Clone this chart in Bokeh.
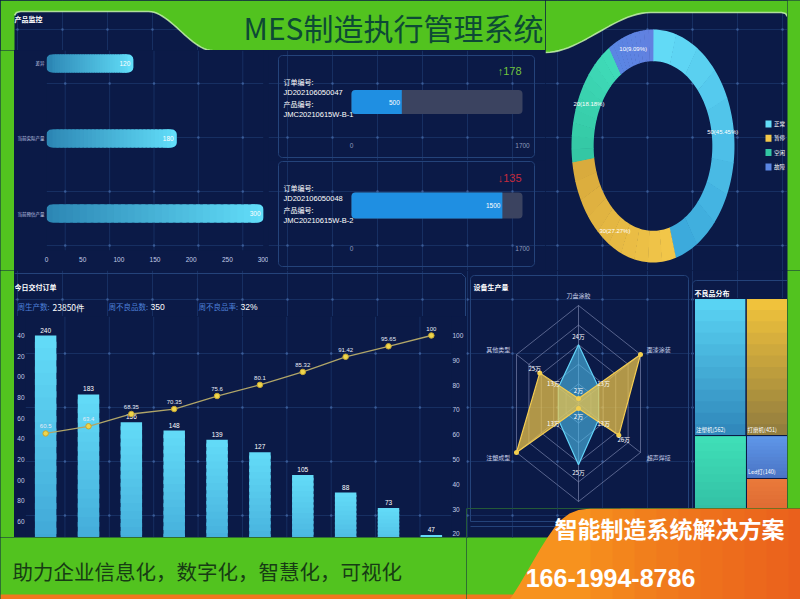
import numpy as np
from bokeh.plotting import figure
from bokeh.layouts import row, column
from bokeh.models import Range1d, LinearAxis, FixedTicker
from bokeh.core.properties import value
from bokeh.embed import file_html
from bokeh.resources import INLINE

# ---------------- data ----------------
dashboard_title = "MES制造执行管理系统"

monitor_title = "产品监控"
monitor_cats = ["差异", "当前实际产量", "当前预估产量"]
monitor_vals = [120, 180, 300]
monitor_ticks = [0, 50, 100, 150, 200, 250, 300]

order_label = "订单编号:"
product_label = "产品编号:"
order_ids = ["JD202106050047", "JD202106050048"]
product_ids = ["JMC20210615W-B-1", "JMC20210615W-B-2"]
order_done = [500, 1500]
order_target = [1700, 1700]
order_change = [178, -135]

status_names = ["正常", "暂停", "空闲", "故障"]
status_vals = [50, 30, 20, 10]

delivery_title = "今日交付订单"
week_labels = ["周生产数:", "周不良品数:", "周不良品率:"]
week_values = ["23850件", "350", "32%"]
delivery_cats = ["1", "2", "3", "4", "5", "6", "7", "8", "9", "10"]
delivery_vals = [240, 183, 156, 148, 139, 127, 105, 88, 73, 47]
delivery_cum = [60.5, 63.4, 68.35, 70.35, 75.6, 80.1, 85.32, 91.42, 95.65, 100]
delivery_left_ticks = [0, 20, 40, 60, 80, 100, 120, 140, 160, 180, 200, 220, 240]
delivery_right_ticks = [0, 10, 20, 30, 40, 50, 60, 70, 80, 90, 100]

radar_title = "设备生产量"
radar_names = ["刀盘涂胶", "面漆涂装", "超声焊接", "封装检测", "注塑成型", "其他类型"]
radar_max = 40
radar_a = [24, 13, 13, 25, 13, 13]
radar_b = [2, 40, 26, 2, 40, 25]

defect_title = "不良品分布"
defect_names = ["注塑机", "打磨机", "焊接机", "Led灯", "其他"]
defect_vals = [562, 451, 384, 140, 163]

slogan = "助力企业信息化，数字化，智慧化，可视化"
ad_title = "智能制造系统解决方案"
ad_phone = "166-1994-8786"

# ---------------- style ----------------
CJK = "Noto Sans CJK SC"
LAT = "Liberation Sans"
NAVY = "#0b1a47"
GREEN = "#52c31f"
GRIDC = "#172f62"
PANEL = "#24437a"
TICK = "#c3cde8"


def hexmix(c0, c1, t):
    a = [int(c0[i:i + 2], 16) for i in (1, 3, 5)]
    b = [int(c1[i:i + 2], 16) for i in (1, 3, 5)]
    return "#%02x%02x%02x" % tuple(int(round(a[k] + (b[k] - a[k]) * t)) for k in range(3))


def base(p):
    p.background_fill_color = NAVY
    p.border_fill_color = NAVY
    p.outline_line_color = None
    p.xgrid.grid_line_color = None
    p.ygrid.grid_line_color = None
    p.frame_align = False


def mkfig(w, h, gx0, gy0, xr=None, yr=None):
    p = figure(width=w, height=h, output_backend="svg", toolbar_location=None,
               x_range=xr if xr is not None else Range1d(gx0, gx0 + w),
               y_range=yr if yr is not None else Range1d(gy0 + h, gy0),
               x_axis_location=None, y_axis_location=None, min_border=0)
    p.extra_x_ranges = {"px": Range1d(gx0, gx0 + w)}
    p.extra_y_ranges = {"py": Range1d(gy0 + h, gy0)}
    base(p)
    return p


def strip(w, h):
    p = mkfig(w, h, 0, 0)
    p.background_fill_color = GREEN
    p.border_fill_color = GREEN
    return p


def bg(p, x0, x1, y0, y1):
    gx = [x for x in range(17, 800, 45) if x0 <= x <= x1]
    gy = [y for y in range(29, 600, 54) if y0 <= y <= y1]
    if gx:
        p.segment(x0=gx, y0=[y0] * len(gx), x1=gx, y1=[y1] * len(gx), line_color=GRIDC,
                  line_width=1, x_range_name="px", y_range_name="py")
    if gy:
        p.segment(x0=[x0] * len(gy), y0=gy, x1=[x1] * len(gy), y1=gy, line_color=GRIDC,
                  line_width=1, x_range_name="px", y_range_name="py")
    if gx and gy:
        X, Y = np.meshgrid(gx, gy)
        p.scatter(X.ravel(), Y.ravel(), size=2.4, fill_color="#3a5c98", line_color=None,
                  x_range_name="px", y_range_name="py")


def rrect(x0, y0, x1, y1, r, n=6):
    xs, ys = [], []
    for cx, cy, a0, a1 in [(x1 - r, y0 + r, -90, 0), (x1 - r, y1 - r, 0, 90),
                           (x0 + r, y1 - r, 90, 180), (x0 + r, y0 + r, 180, 270)]:
        for a in np.linspace(np.radians(a0), np.radians(a1), n):
            xs.append(cx + r * np.cos(a))
            ys.append(cy + r * np.sin(a))
    xs.append(xs[0])
    ys.append(ys[0])
    return xs, ys


def panel(p, x0, y0, x1, y1, r=4, color=PANEL):
    xs, ys = rrect(x0, y0, x1, y1, r)
    p.line(xs, ys, line_color=color, line_width=1, x_range_name="px", y_range_name="py")


def put(p, x, y, s, size, color="white", font=CJK, align="left", baseline="middle",
        bold=False, xr="px", yr="py", **kw):
    p.text(x=[x], y=[y], text=[s], text_font=value(font), text_font_size=size,
           text_color=color, text_align=align, text_baseline=baseline,
           text_font_style="bold" if bold else "normal",
           x_range_name=xr, y_range_name=yr, **kw)


def axstyle(ax, size="6.5px", font=LAT):
    ax.axis_line_color = None
    ax.major_tick_line_color = None
    ax.minor_tick_line_color = None
    ax.major_tick_out = 0
    ax.major_tick_in = 0
    ax.minor_tick_out = 0
    ax.minor_tick_in = 0
    ax.major_label_text_color = TICK
    ax.major_label_text_font_size = size
    ax.major_label_text_font = font
    ax.major_label_standoff = 2


# ================= header =================
pH = mkfig(545, 50, 0, 0)
bg(pH, 14, 545, 0, 50)
t = np.linspace(0, 1, 24)
cxs = 148 + 64 * t
cys = 11 + 39 * (3 * t ** 2 - 2 * t ** 3)
mx = [0, 0, 545, 545] + list(cxs[::-1]) + [20, 16, 14, 14]
my = [51, 0, 0, 51] + list(cys[::-1]) + [11, 12, 15, 51]
pH.patch(mx, my, fill_color=GREEN, line_color=None, x_range_name="px", y_range_name="py")
pH.line([14, 16, 20] + list(cxs), [15, 12, 11] + list(cys), line_color="#c6f2ad",
        line_width=1.6, line_alpha=0.85, x_range_name="px", y_range_name="py")
put(pH, 14, 18.5, monitor_title, "7px", bold=True)
put(pH, 393, 26, dashboard_title, "30px", color="#0d4a35", align="center")

# ================= product monitor (horizontal bars) =================
ypos = [len(monitor_cats) - 1 - i for i in range(len(monitor_cats))]
A_fx0, A_fx1 = 43, 263
pA = figure(width=254, height=220, output_backend="svg", toolbar_location=None,
            x_range=Range1d(0, monitor_ticks[-1]), y_range=Range1d(-0.4933, 2.1733),
            min_border_left=A_fx0 - 14, min_border_right=268 - A_fx1, min_border_top=0,
            min_border_bottom=20)
base(pA)
pA.extra_x_ranges = {"px": Range1d(A_fx0, A_fx1)}
pA.extra_y_ranges = {"py": Range1d(250, 50)}
bg(pA, A_fx0, A_fx1, 50, 250)
pA.yaxis.ticker = FixedTicker(ticks=ypos)
pA.yaxis.major_label_overrides = {pp: c for pp, c in zip(ypos, monitor_cats)}
axstyle(pA.yaxis[0], "4.5px", CJK)
pA.xaxis.ticker = FixedTicker(ticks=monitor_ticks)
axstyle(pA.xaxis[0], "6.5px")
pA.xaxis.major_label_standoff = 6

bar_h = 0.24
cA0, cA1 = "#2c86b4", "#62def9"
cap = 6.0 / ((A_fx1 - A_fx0) / float(monitor_ticks[-1]))   # 6px rounded end, in data units
pA.hbar(y=ypos, left=[0] * len(ypos), right=monitor_vals, height=bar_h, fill_color=cA0,
        line_color=None, border_radius=5)
pA.hbar(y=ypos, left=[v - 2 * cap for v in monitor_vals], right=monitor_vals, height=bar_h,
        fill_color=cA1, line_color=None, border_radius=(0, 5, 5, 0))
nseg = 30
SL, SR, SY, SC = [], [], [], []
for yp, v in zip(ypos, monitor_vals):
    edges = np.linspace(cap, v - cap, nseg + 1)
    step = edges[1] - edges[0]
    for s in range(nseg):
        SL.append(edges[s])
        SR.append(edges[s + 1] + (0 if s == nseg - 1 else step * 0.6))
        SY.append(yp)
        SC.append(hexmix(cA0, cA1, (edges[s] + step / 2) / v))
pA.hbar(y=SY, left=SL, right=SR, height=bar_h, fill_color=SC, line_color=None)
pA.text(x=monitor_vals, y=ypos, text=[str(v) for v in monitor_vals], x_offset=-3,
        text_align="right", text_baseline="middle", text_color="white",
        text_font=value(LAT), text_font_size="6.5px")

# ================= order cards =================
card_layout = [
    dict(gy0=50, box=(278, 55, 534, 157), text_y0=81, bar_y=101.5, bar_h=24, tick_y=145, delta_y=70),
    dict(gy0=160, box=(278, 161, 534, 266), text_y0=187, bar_y=205, bar_h=26, tick_y=248, delta_y=177),
]


def card(i):
    lay = card_layout[i]
    w, h, gx0, gy0 = 277, 110, 268, lay["gy0"]
    tx0, tx1 = 351, 522
    k = order_target[i] / (tx1 - tx0)
    p = figure(width=w, height=h, output_backend="svg", toolbar_location=None,
               x_range=Range1d(-(tx0 - gx0) * k, order_target[i] + (gx0 + w - tx1) * k),
               y_range=Range1d(0, h), x_axis_location=None, y_axis_location=None,
               min_border=0)
    p.extra_x_ranges = {"px": Range1d(gx0, gx0 + w)}
    p.extra_y_ranges = {"py": Range1d(gy0 + h, gy0)}
    base(p)
    bg(p, gx0, gx0 + w, gy0, gy0 + h)
    panel(p, *lay["box"])
    ty = lay["text_y0"]
    for j, s in enumerate([order_label, order_ids[i], product_label, product_ids[i]]):
        put(p, 283, ty + 11 * j, s, "7.5px" if j % 2 else "7px", font=LAT if j % 2 else CJK)
    yc = gy0 + h - lay["bar_y"]
    p.hbar(y=[yc], left=[0], right=[order_target[i]], height=lay["bar_h"],
           fill_color="#3b4360", line_color=None, border_radius=4)
    p.hbar(y=[yc], left=[0], right=[order_done[i]], height=lay["bar_h"],
           fill_color="#1f8fe2", line_color=None, border_radius=(4, 0, 0, 4))
    p.text(x=[order_done[i]], y=[yc], text=[str(order_done[i])], x_offset=-2,
           text_align="right", text_baseline="middle", text_color="white",
           text_font=value(LAT), text_font_size="6.5px")
    ticks = [0, order_target[i]]
    p.text(x=ticks, y=[gy0 + h - lay["tick_y"]] * 2, text=[str(v) for v in ticks],
           text_align="center", text_baseline="middle", text_color="#8d9bbd",
           text_font=value(LAT), text_font_size="6.5px")
    d = order_change[i]
    put(p, 521, lay["delta_y"], ("↑" if d > 0 else "↓") + str(abs(d)), "11px",
        color="#72c43e" if d > 0 else "#c62a3d", font=LAT, align="right")
    return p


pB1 = card(0)
pB2 = card(1)

# ================= status donut =================
D_cx, D_cy, D_rx, D_ry = 652.5, 145.5, 81.5, 116.5
C_x0, C_y0, C_w, C_h = 545, 0, 242, 270
pC = mkfig(C_w, C_h, C_x0, C_y0,
           xr=Range1d(-(D_cx - C_x0) / D_rx, (C_x0 + C_w - D_cx) / D_rx),
           yr=Range1d(-(C_y0 + C_h - D_cy) / D_ry, (D_cy - C_y0) / D_ry))
bg(pC, C_x0, C_x0 + C_w, C_y0, C_y0 + C_h)
t = np.linspace(0, 1, 24)
bx = 650 - 105 * t
by = 12 + 40 * (3 * t ** 2 - 2 * t ** 3)
gmx = [545, 545, 787, 787, 785, 781] + list(bx)
gmy = [52, 0, 0, 16, 13, 12] + list(by)
pC.patch(gmx, gmy, fill_color=GREEN, line_color=None, x_range_name="px", y_range_name="py")
pC.line(list(bx[::-1]) + [781, 785, 787], list(by[::-1]) + [12, 13, 16], line_color="#c6f2ad",
        line_width=1.6, line_alpha=0.85, x_range_name="px", y_range_name="py")

slice_c0 = ["#64ddf8", "#f3c84a", "#33c6a3", "#5a86e3"]
slice_c1 = ["#3aa7da", "#d8a93c", "#40dcb9", "#6280e0"]
tot = float(sum(status_vals))
cum = np.cumsum([0] + status_vals) / tot * 2 * np.pi
ri = 0.728
xs_list, ys_list, cols = [], [], []
for j in range(len(status_vals)):
    sub = np.linspace(cum[j], cum[j + 1], 11)
    for k in range(10):
        aa = np.linspace(sub[k], sub[k + 1] + 0.006, 8)
        xo, yo = np.sin(aa), np.cos(aa)
        xs_list.append(list(xo) + list(ri * xo[::-1]))
        ys_list.append(list(yo) + list(ri * yo[::-1]))
        cols.append(hexmix(slice_c0[j], slice_c1[j], (k + 0.5) / 10))
pC.patches(xs_list, ys_list, fill_color=cols, line_color=None)
mids = (cum[:-1] + cum[1:]) / 2
rm = (1 + ri) / 2
pC.text(x=list(np.sin(mids) * rm), y=list(np.cos(mids) * rm),
        text=["%d(%.2f%%)" % (v, v / tot * 100) for v in status_vals],
        text_align="center", text_baseline="middle", text_color="white",
        text_font=value(LAT), text_font_size="6px")
leg_y = [123.5 + 14.3 * i for i in range(len(status_names))]
pC.quad(left=[765] * 4, right=[771] * 4, top=[y - 3.5 for y in leg_y],
        bottom=[y + 3.5 for y in leg_y], fill_color=slice_c0, line_color=None,
        x_range_name="px", y_range_name="py")
pC.text(x=[773.5] * 4, y=leg_y, text=status_names, text_align="left", text_baseline="middle",
        text_color="white", text_font=value(CJK), text_font_size="5.5px",
        x_range_name="px", y_range_name="py")

# ================= delivery (pareto) =================
pDt = mkfig(452, 46, 14, 270)
bg(pDt, 14, 466, 270, 316)
pDt.line([14, 461, 465, 465], [273, 273, 277, 316], line_color=PANEL, line_width=1,
         x_range_name="px", y_range_name="py")
put(pDt, 14, 286, delivery_title, "7px", bold=True)
for lx, vx, lab, val in zip([17, 108, 198], [52, 150, 240], week_labels, week_values):
    put(pDt, lx, 306, lab, "7.5px", color="#4d80d8")
    put(pDt, vx, 306, val, "8.5px", font=LAT if not val.endswith("件") else CJK)

k_left = 248 / 240.0   # px per unit (left axis)
k_right = 248 / 100.0  # px per unit (right axis)
zero_y, top_y, bot_y = 583, 316, 537
D_fx0, D_fx1 = 22, 454
delivery_x = [i + 0.5 for i in range(len(delivery_cats))]   # category slots
pD = figure(width=452, height=221, output_backend="svg", toolbar_location=None,
            x_range=Range1d(0.03, len(delivery_cats) - 0.03),
            y_range=Range1d((zero_y - bot_y) / k_left, (zero_y - top_y) / k_left),
            x_axis_location=None, min_border_left=D_fx0 - 14, min_border_right=466 - D_fx1,
            min_border_top=0, min_border_bottom=0)
base(pD)
pD.extra_y_ranges = {"pct": Range1d((zero_y - bot_y) / k_right, (zero_y - top_y) / k_right),
                     "py": Range1d(bot_y, top_y)}
pD.extra_x_ranges = {"px": Range1d(D_fx0, D_fx1)}
bg(pD, D_fx0, D_fx1, top_y, bot_y)
pD.yaxis.ticker = FixedTicker(ticks=delivery_left_ticks)
pD.yaxis.major_label_overrides = {tk: str(tk)[-2:] for tk in delivery_left_ticks}
axstyle(pD.yaxis[0])
pD.yaxis.major_label_standoff = 1
rax = LinearAxis(y_range_name="pct", ticker=FixedTicker(ticks=delivery_right_ticks))
axstyle(rax)
rax.major_label_standoff = 1
pD.add_layout(rax, "right")

nseg = 20
X, B, T, C = [], [], [], []
for xc, v in zip(delivery_x, delivery_vals):
    edges = np.linspace(0, v, nseg + 1)
    for s in range(nseg):
        X.append(xc)
        B.append(edges[s])
        T.append(edges[s + 1] + (0 if s == nseg - 1 else v / nseg * 0.5))
        C.append(hexmix("#3a9dd0", "#63dcf8", (s + 0.5) / nseg))
pD.vbar(x=X, bottom=B, top=T, width=0.5, fill_color=C, line_color=None)
pD.text(x=delivery_x, y=delivery_vals, text=[str(v) for v in delivery_vals], y_offset=-3,
        text_align="center", text_baseline="bottom", text_color="white",
        text_font=value(LAT), text_font_size="6.5px")
pD.line(x=delivery_x, y=delivery_cum, y_range_name="pct", line_color="#b0a568",
        line_width=1.3)
pD.scatter(x=delivery_x, y=delivery_cum, y_range_name="pct", size=5.5,
           fill_color="#efd54b", line_color="#c4a532")
pD.text(x=delivery_x, y=delivery_cum, y_range_name="pct",
        text=["%g" % v for v in delivery_cum], y_offset=-5, text_align="center",
        text_baseline="bottom", text_color="#e6ebf6", text_font=value(LAT),
        text_font_size="6px")

# ================= radar =================
R_cx, R_cy, R_rx, R_ry = 578, 403, 71.6, 98
E_x0, E_y0, E_w, E_h = 466, 270, 224, 238
pE = mkfig(E_w, E_h, E_x0, E_y0,
           xr=Range1d(-(R_cx - E_x0) / R_rx, (E_x0 + E_w - R_cx) / R_rx),
           yr=Range1d(-(E_y0 + E_h - R_cy) / R_ry, (R_cy - E_y0) / R_ry))
bg(pE, E_x0, E_x0 + E_w, E_y0, E_y0 + E_h)
panel(pE, 470, 275, 688, 522)
put(pE, 473, 286, radar_title, "7px", bold=True)
n = len(radar_names)
ang = np.array([2 * np.pi * i / n for i in range(n)])
ux, uy = np.sin(ang), np.cos(ang)
rings_x = [list(ux * l / 5) + [ux[0] * l / 5] for l in range(1, 6)]
rings_y = [list(uy * l / 5) + [uy[0] * l / 5] for l in range(1, 6)]
pE.multi_line(rings_x, rings_y, line_color="#8893ba", line_alpha=0.6, line_width=1)
pE.segment(x0=[0] * n, y0=[0] * n, x1=list(ux), y1=list(uy), line_color="#8893ba",
           line_alpha=0.6, line_width=1)
y_floor = -(E_y0 + E_h - R_cy) / R_ry
for i in range(n):
    if uy[i] * 1.1 - 0.06 < y_floor:   # label hidden below the panel edge
        continue
    al = "center" if abs(ux[i]) < 0.1 else ("left" if ux[i] > 0 else "right")
    put(pE, ux[i] * 1.1, uy[i] * 1.1, radar_names[i], "6px", color="#c8d0ea", align=al,
        xr="default", yr="default")
for vals, fc, lc, fa in ((radar_a, "#4ec0ef", "#62d2f7", 0.6), (radar_b, "#f0c64a", "#f3cc52", 0.72)):
    r = np.array(vals) / radar_max
    pE.patch(list(ux * r), list(uy * r), fill_color=fc, fill_alpha=fa, line_color=lc,
             line_width=1.2)
rb = np.array(radar_b) / radar_max
pE.scatter(list(ux * rb), list(uy * rb), size=5, fill_color="#f3cf4e", line_color=None)
for vals in (radar_a, radar_b):
    r = np.array(vals) / radar_max
    keep = [i for i in range(n) if vals[i] < radar_max]
    rr = r + 0.08
    pE.text(x=[ux[i] * rr[i] for i in keep], y=[uy[i] * rr[i] for i in keep],
            text=["%d万" % vals[i] for i in keep], text_align="center",
            text_baseline="middle", text_color="white", text_font=value(CJK),
            text_font_size="6px")

# ================= treemap =================
F_x0, F_y0, F_w, F_h = 690, 270, 97, 238
T_x0, T_x1, T_y0, T_y1 = 694, 787, 298, 528
pF = mkfig(F_w, F_h, F_x0, F_y0,
           xr=Range1d(-(T_x0 - F_x0) / (T_x1 - T_x0), (F_x0 + F_w - T_x0) / (T_x1 - T_x0)),
           yr=Range1d((F_y0 + F_h - T_y0) / (T_y1 - T_y0), -(T_y0 - F_y0) / (T_y1 - T_y0)))
bg(pF, F_x0, F_x0 + F_w, F_y0, F_y0 + F_h)
panel(pF, 692, 280, 800, 530)
put(pF, 694, 292, defect_title, "7px", bold=True)


def treemap_cells(vals):
    total = float(sum(vals))
    top, rest = vals[:2], vals[2:]
    h1 = sum(top) / total
    cells, x = [], 0.0
    for v in top:
        w = v / float(sum(top))
        cells.append((x, 0.0, x + w, h1))
        x += w
    wl = rest[0] / float(sum(rest))
    cells.append((0.0, h1, wl, 1.0))
    y = h1
    for v in rest[1:]:
        hh = (1 - h1) * v / float(sum(rest[1:]))
        cells.append((wl, y, 1.0, y + hh))
        y += hh
    return cells


cells = treemap_cells(defect_vals)
cell_c0 = ["#5bd6f6", "#f4c53c", "#40e0b8", "#5f97ea", "#ea7a3a"]
cell_c1 = ["#2f86b9", "#8f7b3e", "#2fb8a0", "#4a74c4", "#d7622f"]
QL, QR, QT, QB, QC = [], [], [], [], []
for (x0, y0, x1, y1), c0, c1 in zip(cells, cell_c0, cell_c1):
    ye = np.linspace(y0, y1, 13)
    step = (y1 - y0) / 12
    for k in range(12):
        QL.append(x0)
        QR.append(x1)
        QT.append(ye[k])
        QB.append(ye[k + 1] + (0 if k == 11 else step * 0.5))
        QC.append(hexmix(c0, c1, (k + 0.5) / 12))
pF.quad(left=QL, right=QR, top=QT, bottom=QB, fill_color=QC, line_color=None)
pF.quad(left=[c[0] for c in cells], right=[c[2] for c in cells], top=[c[1] for c in cells],
        bottom=[c[3] for c in cells], fill_color=None, line_color=NAVY, line_width=1)
visible_bottom = (F_y0 + F_h - T_y0) / (T_y1 - T_y0)
shown = [i for i, c in enumerate(cells) if c[3] < visible_bottom]
pF.text(x=[cells[i][0] for i in shown], y=[cells[i][3] for i in shown],
        text=["%s(%d)" % (defect_names[i], defect_vals[i]) for i in shown],
        x_offset=1.5, y_offset=-2, text_align="left", text_baseline="bottom",
        text_color="white", text_font=value(CJK), text_font_size="5.5px")

# ================= banners =================
pLB = mkfig(466, 62, 0, 537)
pLB.background_fill_color = GREEN
pLB.border_fill_color = GREEN
pLB.quad(left=[0], right=[466], top=[594], bottom=[599], fill_color="#f0781e",
         line_color=None, x_range_name="px", y_range_name="py")
put(pLB, 12, 570, slogan, "20.5px", color="#173c14")

pRB = mkfig(334, 91, 466, 508)
pRB.background_fill_color = GREEN
pRB.border_fill_color = GREEN
pRB.quad(left=[466], right=[560], top=[594], bottom=[599], fill_color="#f0781e",
         line_color=None, x_range_name="px", y_range_name="py")
pRB.patch([466, 620, 620, 466], [508, 508, 537, 537], fill_color=NAVY, line_color=None,
          x_range_name="px", y_range_name="py")
bg(pRB, 466, 620, 508, 537)
pRB.line([470, 470, 600], [508, 521, 521], line_color=PANEL, x_range_name="px", y_range_name="py")
pRB.line([470, 600], [526, 526], line_color=PANEL, x_range_name="px", y_range_name="py")
ox = [800, 590, 578, 569, 561, 554, 547, 540, 533, 526, 519, 512, 509, 800]
oy = [508, 508, 509.5, 513, 519, 527, 537, 548, 560, 572, 584, 595, 599, 599]
pRB.patch(ox, oy, fill_color="#f7921e", line_color=None, x_range_name="px", y_range_name="py")
for xo in range(590, 800, 22):
    pRB.quad(left=[xo], right=[800], top=[508], bottom=[599], fill_color="#e5391a",
             fill_alpha=0.07, line_color=None, x_range_name="px", y_range_name="py")
put(pRB, 669, 527, ad_title, "23px", align="center", bold=True)
put(pRB, 610, 577, ad_phone, "25px", font=LAT, align="center", bold=True)

# ================= layout =================
top_left = column(pH, row(strip(14, 220), pA, column(pB1, pB2)))
row1 = row(top_left, pC, strip(13, 270))
left2 = column(row(strip(14, 267), column(pDt, pD)), pLB)
right2 = column(row(pE, pF, strip(13, 238)), pRB)
row2 = row(left2, right2)
root = column(row1, row2, styles={"background-color": NAVY})

open("out.html", "w").write(file_html(root, INLINE))
